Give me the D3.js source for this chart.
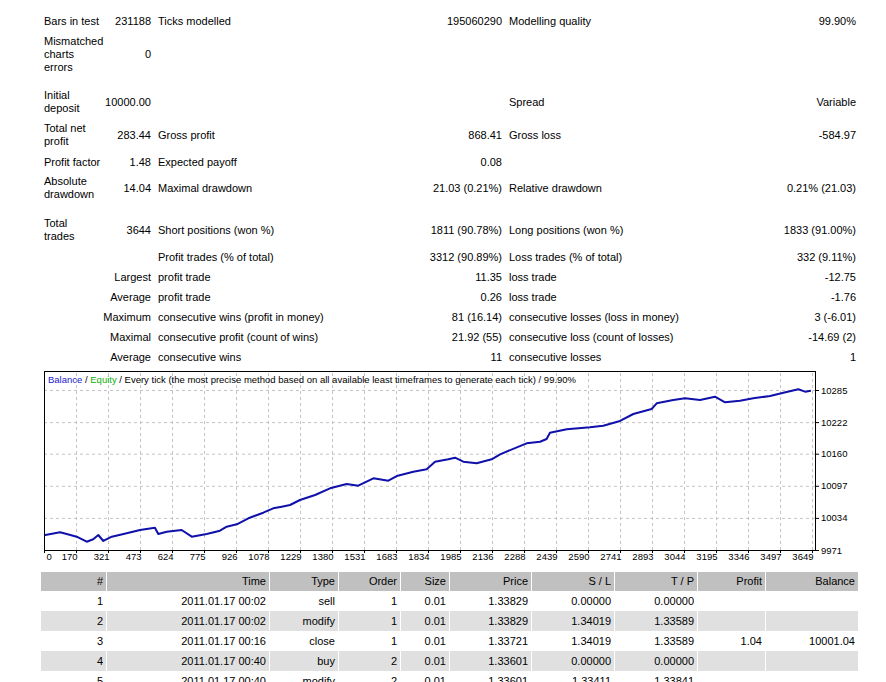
<!DOCTYPE html>
<html>
<head>
<meta charset="utf-8">
<script src="https://cdn.jsdelivr.net/npm/d3@7"></script>
<style>
body { margin: 0; background: #fff; }
svg text { font-family: Tahoma, "Liberation Sans", Arial, sans-serif; fill: #000; }
</style>
</head>
<body>
<div id="report"></div>
<script>
//summary rows: label, value, label, value, label, value
var statRows = [
    ["Bars in test", "231188", "Ticks modelled", "195060290", "Modelling quality", "99.90%"],
    ["Mismatched\ncharts\nerrors", "0", "", "", "", ""],
    ["Initial\ndeposit", "10000.00", "", "", "Spread", "Variable"],
    ["Total net\nprofit", "283.44", "Gross profit", "868.41", "Gross loss", "-584.97"],
    ["Profit factor", "1.48", "Expected payoff", "0.08", "", ""],
    ["Absolute\ndrawdown", "14.04", "Maximal drawdown", "21.03 (0.21%)", "Relative drawdown", "0.21% (21.03)"],
    ["Total\ntrades", "3644", "Short positions (won %)", "1811 (90.78%)", "Long positions (won %)", "1833 (91.00%)"],
    ["", "", "Profit trades (% of total)", "3312 (90.89%)", "Loss trades (% of total)", "332 (9.11%)"],
    ["", "Largest", "profit trade", "11.35", "loss trade", "-12.75"],
    ["", "Average", "profit trade", "0.26", "loss trade", "-1.76"],
    ["", "Maximum", "consecutive wins (profit in money)", "81 (16.14)", "consecutive losses (loss in money)", "3 (-6.01)"],
    ["", "Maximal", "consecutive profit (count of wins)", "21.92 (55)", "consecutive loss (count of losses)", "-14.69 (2)"],
    ["", "Average", "consecutive wins", "11", "consecutive losses", "1"]
];

//balance curve (trade number / balance)
var tradeNums = [0, 76, 108, 155, 203, 234, 258, 282, 322, 393, 456, 527, 543, 583, 654, 702, 773, 836, 868, 916,
    971, 1042, 1089, 1129, 1169, 1216, 1288, 1359, 1438, 1493, 1565, 1636, 1676, 1755, 1818, 1858, 1921, 1953, 1992, 2056,
    2127, 2167, 2293, 2357, 2388, 2404, 2484, 2594, 2657, 2737, 2800, 2887, 2911, 2990, 3046, 3117, 3188, 3236, 3307, 3370,
    3450, 3513, 3584, 3616, 3644];
var balanceValues = [10000.0, 10005.7, 10002.4, 9997.1, 9987.3, 9992.0, 10000.4, 9988.7, 9997.1, 10003.8, 10010.3, 10014.8, 10002.4, 10006.9, 10010.3, 9997.1, 10002.4, 10008.9, 10016.7, 10021.4,
    10033.2, 10044.2, 10052.8, 10056.0, 10059.3, 10069.1, 10078.9, 10092.1, 10100.5, 10097.2, 10111.7, 10107.0, 10116.2, 10124.7, 10129.4, 10144.3, 10149.0, 10152.1, 10144.3, 10141.1,
    10149.0, 10158.8, 10180.4, 10183.5, 10188.8, 10201.2, 10207.9, 10211.8, 10214.9, 10224.2, 10237.9, 10247.7, 10258.9, 10265.4, 10268.7, 10265.4, 10271.9, 10260.9, 10264.0, 10268.7,
    10273.2, 10279.7, 10286.4, 10281.7, 10283.4];

var xTickLabels = ["0", "170", "321", "473", "624", "775", "926", "1078", "1229", "1380", "1531", "1683", "1834",
    "1985", "2136", "2288", "2439", "2590", "2741", "2893", "3044", "3195", "3346", "3497", "3649"];
var yTickLabels = ["9971", "10034", "10097", "10160", "10222", "10285"];

//trade list
var tableHeaders = ["#", "Time", "Type", "Order", "Size", "Price", "S / L", "T / P", "Profit", "Balance"];
var tradeRows = [
    ["1", "2011.01.17 00:02", "sell", "1", "0.01", "1.33829", "0.00000", "0.00000", "", ""],
    ["2", "2011.01.17 00:02", "modify", "1", "0.01", "1.33829", "1.34019", "1.33589", "", ""],
    ["3", "2011.01.17 00:16", "close", "1", "0.01", "1.33721", "1.34019", "1.33589", "1.04", "10001.04"],
    ["4", "2011.01.17 00:40", "buy", "2", "0.01", "1.33601", "0.00000", "0.00000", "", ""],
    ["5", "2011.01.17 00:40", "modify", "2", "0.01", "1.33601", "1.33411", "1.33841", "", ""]
];

//page layout
var width = 886,
    height = 682,
    statRowY = [21, 54, 102, 135, 162, 188, 230, 257, 277, 297, 317, 337, 357],
    statColX = [44, 151, 158, 502, 509, 856],
    statAnchor = ["start", "end", "start", "end", "start", "end"],
    lineGap = 13;

var frameLeft = 44, frameRight = 816, frameTop = 371, frameBottom = 550,
    plotRight = 812, plotTop = 390;

var colEdges = [41, 107, 270, 339, 401, 450, 532, 615, 698, 766, 859],
    headerTop = 572, headerHeight = 19, rowHeight = 20;

var svg = d3.select("#report")
    .append("svg")
    .attr("width", width)
    .attr("height", height);

//summary block
statRows.forEach(function(row, r) {
    row.forEach(function(cell, c) {
        if (!cell) return;
        var lines = cell.split("\n");
        var t = svg.append("text")
            .attr("text-anchor", statAnchor[c])
            .style("font-size", "11px");
        lines.forEach(function(line, i) {
            t.append("tspan")
                .attr("x", statColX[c])
                .attr("y", statRowY[r] + (i - (lines.length - 1) / 2) * lineGap)
                .attr("dy", "0.35em")
                .text(line);
        });
    });
});

//graph
var x = d3.scaleLinear()
    .domain([0, +xTickLabels[xTickLabels.length - 1]])
    .range([frameLeft, plotRight]);
var xGrid = d3.scalePoint()
    .domain(xTickLabels)
    .range([frameLeft, plotRight]);
var y = d3.scaleLinear()
    .domain([+yTickLabels[0], +yTickLabels[yTickLabels.length - 1]])
    .range([frameBottom, plotTop]);

var graph = svg.append("g").attr("class", "graph");

graph.append("rect")
    .attr("x", frameLeft)
    .attr("y", frameTop)
    .attr("width", frameRight - frameLeft)
    .attr("height", frameBottom - frameTop)
    .style("fill", "#fff");

//dashed grid
graph.append("g")
    .attr("transform", "translate(0," + frameBottom + ")")
    .call(d3.axisBottom(xGrid).tickValues(xTickLabels.slice(1)).tickSize(-(frameBottom - frameTop)).tickFormat(""))
    .call(function(g) { g.select(".domain").remove(); })
    .selectAll("line")
    .style("stroke", "#c4c4c4")
    .style("stroke-dasharray", "3,3");

graph.append("g")
    .attr("transform", "translate(" + frameLeft + ",0)")
    .call(d3.axisLeft(y).tickValues(yTickLabels.slice(1).map(Number)).tickSize(-(frameRight - frameLeft)).tickFormat(""))
    .call(function(g) { g.select(".domain").remove(); })
    .selectAll("line")
    .style("stroke", "#c4c4c4")
    .style("stroke-dasharray", "3,3");

//balance line
var balanceLine = d3.line()
    .x(function(d, i) { return x(tradeNums[i]); })
    .y(function(d) { return y(d); });

graph.append("path")
    .datum(balanceValues)
    .attr("d", balanceLine)
    .style("fill", "none")
    .style("stroke", "#1010aa")
    .style("stroke-width", 2)
    .style("stroke-linejoin", "round");

graph.append("rect")
    .attr("x", frameLeft + 0.5)
    .attr("y", frameTop + 0.5)
    .attr("width", frameRight - frameLeft - 1)
    .attr("height", frameBottom - frameTop)
    .style("fill", "none")
    .style("stroke", "#000");

//axes
var yAxis = graph.append("g")
    .attr("transform", "translate(" + frameRight + ",0)")
    .call(d3.axisRight(y).tickValues(yTickLabels.map(Number)).tickFormat(d3.format("d")).tickSize(3).tickPadding(2));
yAxis.select(".domain").remove();
yAxis.selectAll("text").style("font-size", "9.5px").attr("font-family", null);

var xAxis = graph.append("g")
    .attr("transform", "translate(0," + frameBottom + ")")
    .call(d3.axisBottom(xGrid).tickSize(3).tickPadding(0));
xAxis.select(".domain").remove();
xAxis.selectAll("text")
    .style("font-size", "9.5px")
    .attr("font-family", null)
    .attr("text-anchor", function(d, i) { return i === 0 ? "start" : "end"; })
    .attr("dx", function(d, i) { return i === 0 ? 2 : 1; });

//graph title
var title = graph.append("text")
    .attr("x", frameLeft + 4)
    .attr("y", frameTop + 9)
    .attr("dy", "0.35em")
    .style("font-size", "9.5px");
title.append("tspan").style("fill", "#1a1acc").text("Balance");
title.append("tspan").text(" / ");
title.append("tspan").style("fill", "#10b010").text("Equity");
title.append("tspan").text(" / Every tick (the most precise method based on all available least timeframes to generate each tick) / 99.90%");

//trade table
var table = svg.append("g").attr("class", "trades");

var allRows = [tableHeaders].concat(tradeRows);
allRows.forEach(function(row, r) {
    var top = r === 0 ? headerTop : headerTop + headerHeight + (r - 1) * rowHeight;
    var h = r === 0 ? headerHeight : rowHeight;
    var fill = r === 0 ? "#c0c0c0" : (r % 2 === 0 ? "#e0e0e0" : "#fff");
    row.forEach(function(cell, c) {
        table.append("rect")
            .attr("x", colEdges[c])
            .attr("y", top)
            .attr("width", colEdges[c + 1] - colEdges[c] - 1)
            .attr("height", h)
            .style("fill", fill);
        table.append("text")
            .attr("x", colEdges[c + 1] - 4)
            .attr("y", top + h / 2)
            .attr("dy", "0.35em")
            .attr("text-anchor", "end")
            .style("font-size", "11px")
            .text(cell);
    });
});
</script>
</body>
</html>
